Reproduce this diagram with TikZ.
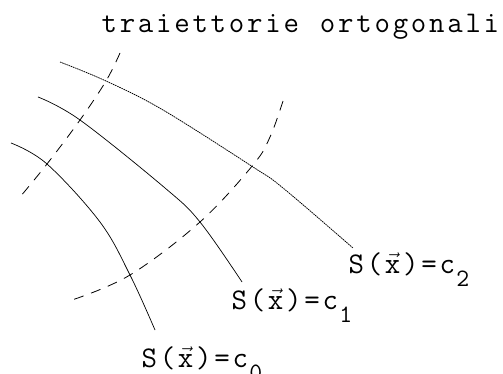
\documentclass[tikz,border=0pt]{standalone}
\usepackage{fontspec}
\newlength{\cw}
\setlength{\cw}{18.2pt}
\newcommand{\cl}[1]{\makebox[\cw][c]{#1}}
\newcommand{\vx}{$\vec{\mbox{x}}$}
\newcommand{\sublbl}[1]{\raisebox{-13pt}{\fontsize{25}{25}\selectfont #1}}
\begin{document}
\begin{tikzpicture}[x=1pt,y=-1pt,
  curve/.style={line width=0.7pt},
  dotcurve/.style={line width=0.75pt, dash pattern=on 1.6pt off 0.7pt},
  traj/.style={line width=0.8pt, dash pattern=on 10pt off 8pt},
  lbl/.style={inner sep=0pt, anchor=base west, font=\ttfamily\fontsize{30}{34}\selectfont}]
\useasboundingbox (0,0) rectangle (503,374);
% level curves
\draw[dotcurve] plot[smooth, tension=0.6] coordinates {(60,62) (106,81) (163,110) (253,167) (283,188) (353,248)};
\draw[curve] plot[smooth, tension=0.6] coordinates {(38,97) (80,120) (165,188) (200,222) (242,282)};
\draw[curve] plot[smooth, tension=0.6] coordinates {(11,143) (47,164) (100,222) (130,275) (155,330)};
% orthogonal trajectories
\draw[traj] plot[smooth, tension=0.6] coordinates {(120,53) (106,81) (80,120) (47,164) (20,197)};
\draw[traj] plot[smooth, tension=0.6] coordinates {(283,101) (270,137) (253,165) (200,222) (130,275) (72,300)};
% texts
\node[lbl] (title) at (100,33) {\cl{t}\cl{r}\cl{a}\cl{i}\cl{e}\cl{t}\cl{t}\cl{o}\cl{r}\cl{i}\cl{e}\cl{ }\cl{o}\cl{r}\cl{t}\cl{o}\cl{g}\cl{o}\cl{n}\cl{a}\cl{l}\cl{i}};
\node[lbl] (c2) at (347,273) {\cl{S}\cl{(}\cl{\vx}\cl{)}\cl{=}\cl{c}\sublbl{2}};
\node[lbl] (c1) at (230,309) {\cl{S}\cl{(}\cl{\vx}\cl{)}\cl{=}\cl{c}\sublbl{1}};
\node[lbl] (c0) at (140,367) {\cl{S}\cl{(}\cl{\vx}\cl{)}\cl{=}\cl{c}\sublbl{0}};
\end{tikzpicture}
\end{document}
